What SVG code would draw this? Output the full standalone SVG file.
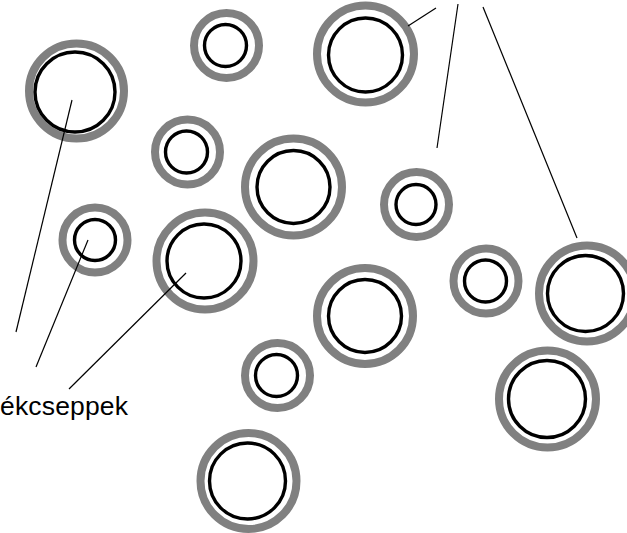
<svg xmlns="http://www.w3.org/2000/svg" width="627" height="533" viewBox="0 0 627 533">
<style>
.ring{fill:none;stroke:#808080;stroke-width:8}
.core{fill:none;stroke:#000;stroke-width:3.4}
.lead{stroke:#000;stroke-width:1.2;fill:none}
.lbl{font-family:"Liberation Sans",Arial,sans-serif;font-size:26.5px;fill:#000}
</style>
<rect width="627" height="533" fill="#fff"/>
<g id="drop1"><circle class="ring" cx="76.5" cy="91" r="47.5"/><circle class="core" cx="75" cy="92" r="40"/></g>
<g id="drop2"><circle class="ring" cx="226.5" cy="45.5" r="32.5"/><circle class="core" cx="225.5" cy="45.5" r="21"/></g>
<g id="drop3"><circle class="ring" cx="365.5" cy="54" r="48.5"/><circle class="core" cx="365.5" cy="55" r="37"/></g>
<g id="drop4"><circle class="ring" cx="187.5" cy="152" r="32.5"/><circle class="core" cx="186.5" cy="152" r="21"/></g>
<g id="drop5"><circle class="ring" cx="293.5" cy="187" r="48.5"/><circle class="core" cx="293.5" cy="187" r="36.5"/></g>
<g id="drop6"><circle class="ring" cx="416.5" cy="204.5" r="32.5"/><circle class="core" cx="416" cy="204.5" r="20"/></g>
<g id="drop7"><circle class="ring" cx="95" cy="240" r="32.5"/><circle class="core" cx="95" cy="240" r="20.5"/></g>
<g id="drop8"><circle class="ring" cx="205" cy="261" r="48.5"/><circle class="core" cx="204" cy="261" r="37"/></g>
<g id="drop9"><circle class="ring" cx="486" cy="281" r="32.5"/><circle class="core" cx="485.5" cy="281" r="21"/></g>
<g id="drop10"><circle class="ring" cx="587" cy="293.5" r="48"/><circle class="core" cx="585.5" cy="293.5" r="38"/></g>
<g id="drop11"><circle class="ring" cx="365" cy="316" r="48"/><circle class="core" cx="365" cy="316" r="36.5"/></g>
<g id="drop12"><circle class="ring" cx="277.5" cy="375.5" r="32.5"/><circle class="core" cx="276.5" cy="375.5" r="21"/></g>
<g id="drop13"><circle class="ring" cx="547.5" cy="399" r="48.5"/><circle class="core" cx="547" cy="399" r="38.5"/></g>
<g id="drop14"><circle class="ring" cx="248.5" cy="481" r="48"/><circle class="core" cx="247.5" cy="481" r="38"/></g>
<g id="connectors">
<line class="lead" x1="72" y1="100" x2="16" y2="332"/>
<line class="lead" x1="88" y1="240" x2="36" y2="367"/>
<line class="lead" x1="186" y1="273" x2="69" y2="389"/>
<line class="lead" x1="436" y1="8" x2="408" y2="26"/>
<line class="lead" x1="458" y1="4" x2="437" y2="148"/>
<line class="lead" x1="483" y1="7" x2="577" y2="238"/>
</g>
<g id="label"><text class="lbl" x="0" y="415" textLength="128" lengthAdjust="spacing">ékcseppek</text></g>
</svg>
